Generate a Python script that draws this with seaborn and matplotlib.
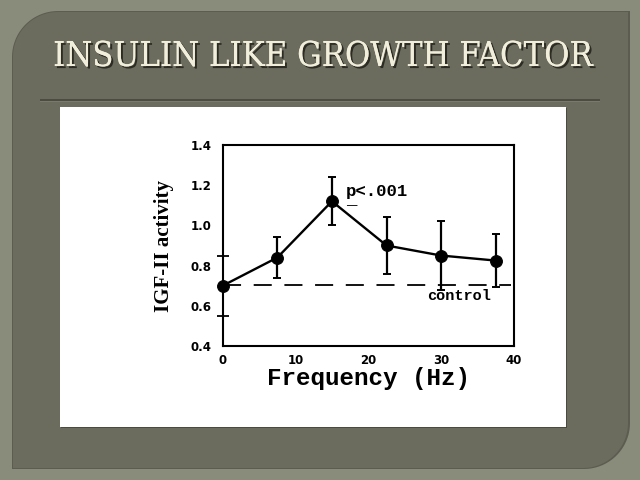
import numpy as np
import pandas as pd
import matplotlib
matplotlib.use("Agg")
import matplotlib.pyplot as plt
import matplotlib.patheffects as pe
from matplotlib.path import Path
from matplotlib.patches import PathPatch, Rectangle
from matplotlib.transforms import Affine2D
import seaborn as sns

# dados
freq = [0, 7.5, 15, 22.5, 30, 37.5]
igf = [0.70, 0.84, 1.12, 0.90, 0.85, 0.825]
erro = [0, 0.10, 0.12, 0.14, 0.17, 0.13]
controle = 0.705
titulo = "INSULIN LIKE GROWTH FACTOR"
x_ticks = [0, 10, 20, 30, 40]
y_ticks = [0.4, 0.6, 0.8, 1.0, 1.2, 1.4]
y_marcas_extra = [0.55, 0.85]   # tracinhos soltos no eixo da figura escaneada

df = pd.DataFrame({"Frequency": freq, "IGF": igf, "err": erro})

sns.set_style("white")
plt.rcParams.update({"text.color": "black", "axes.labelcolor": "black",
                     "xtick.color": "black", "ytick.color": "black"})

W, H = 640, 480
fig = plt.figure(figsize=(6.4, 4.8), dpi=100)
fig.patch.set_facecolor("#8a8c7b")
px = Affine2D().scale(1 / W, 1 / H) + fig.transFigure


def painel(x0, y0, x1, y1, r):
    # retangulo com cantos arredondados em cima-esquerda e baixo-direita
    a = np.linspace(0, np.pi / 2, 20)
    arc_br = list(zip(x1 - r + r * np.cos(a), y0 + r - r * np.sin(a)))
    arc_tl = list(zip(x0 + r - r * np.cos(a), y1 - r + r * np.sin(a)))
    pts = [(x1, y1)] + arc_br + [(x0, y0)] + arc_tl + [(x1, y1)]
    return Path(pts, closed=True)


# painel interno (coordenadas em pixels, y para cima)
fig.patches.append(PathPatch(painel(12, 11, 630, 469, 46), transform=px,
                             facecolor="#5c5c50", edgecolor="none", zorder=-5))
fig.patches.append(PathPatch(painel(13, 12, 628, 468, 45), transform=px,
                             facecolor="#6b6b5e", edgecolor="none", zorder=-4))
# linha horizontal
fig.patches.append(Rectangle((40, 379), 560, 2, transform=px,
                             facecolor="#4c4c42", edgecolor="none", zorder=-3))
fig.patches.append(Rectangle((40, 378), 560, 1, transform=px,
                             facecolor="#7a7a6c", edgecolor="none", zorder=-3))
# caixa branca da figura escaneada
fig.patches.append(Rectangle((61, 52), 506, 320, transform=px,
                             facecolor="#4a4a40", edgecolor="none", zorder=-3))
fig.patches.append(Rectangle((60, 53), 506, 320, transform=px,
                             facecolor="white", edgecolor="none", zorder=-2))

fig.text(323 / W, 1 - 57 / H, titulo, ha="center", va="center",
         fontsize=24.7, family="DejaVu Serif", fontstretch="condensed",
         color="#f1eedb",
         path_effects=[pe.withSimplePatchShadow(offset=(1.5, -1.5),
                                                shadow_rgbFace="#26261e", alpha=0.9),
                       pe.Normal()])

ax = fig.add_axes([222.7 / W, 1 - 346 / H, (514 - 222.7) / W, (346 - 145) / H])
ax.set_zorder(5)
ax.set_facecolor("white")

ax.axhline(controle, xmin=0, xmax=0.99, color="black", lw=1.3, ls=(0, (10, 7)))

sns.lineplot(data=df, x="Frequency", y="IGF", ax=ax, color="black", lw=1.7,
             marker="o", markersize=8.5, markeredgecolor="black", zorder=3,
             clip_on=False)
ax.errorbar(df["Frequency"], df["IGF"], yerr=df["err"], fmt="none",
            ecolor="black", elinewidth=1.6, capsize=3, capthick=1.4, zorder=2)

ax.set_xlim(0, 39.6)
ax.set_ylim(0.4, 1.4)
ax.set_xticks(x_ticks)
ax.set_yticks(y_ticks)
ax.set_yticks(y_marcas_extra, minor=True)
ax.set_xticklabels([str(v) for v in x_ticks])
ax.set_yticklabels([f"{v:.1f}" for v in y_ticks])
for lab in ax.get_xticklabels() + ax.get_yticklabels():
    lab.set_fontfamily("DejaVu Sans")
    lab.set_fontweight("bold")
    lab.set_fontsize(8.5)
ax.tick_params(axis="both", direction="in", length=5, width=1.3, colors="black")
ax.tick_params(axis="y", which="minor", direction="inout", length=9, width=1.3,
               left=True)
ax.tick_params(axis="y", pad=8)
ax.tick_params(axis="x", pad=6)
for s in ax.spines.values():
    s.set_visible(True)
    s.set_color("black")
    s.set_linewidth(1.5)

ax.set_xlabel("Frequency (Hz)", family="Liberation Mono", fontweight="bold",
              fontsize=17.5, labelpad=0, color="black")
ax.set_ylabel("IGF-II activity", family="Liberation Serif", fontweight="bold",
              fontsize=15, labelpad=12, color="black")

# p sublinhado: segunda linha com "_" sob o p
ax.text(16.9, 1.205, "p<.001\n_     ", family="Liberation Mono", fontsize=12.5,
        fontweight="bold", ha="left", va="top", linespacing=0.3, color="black")
ax.text(32.4, 0.647, "control", family="Liberation Mono", fontsize=11,
        fontweight="bold", ha="center", va="center", color="black")

fig.savefig("out.png", dpi=100, facecolor=fig.get_facecolor())
